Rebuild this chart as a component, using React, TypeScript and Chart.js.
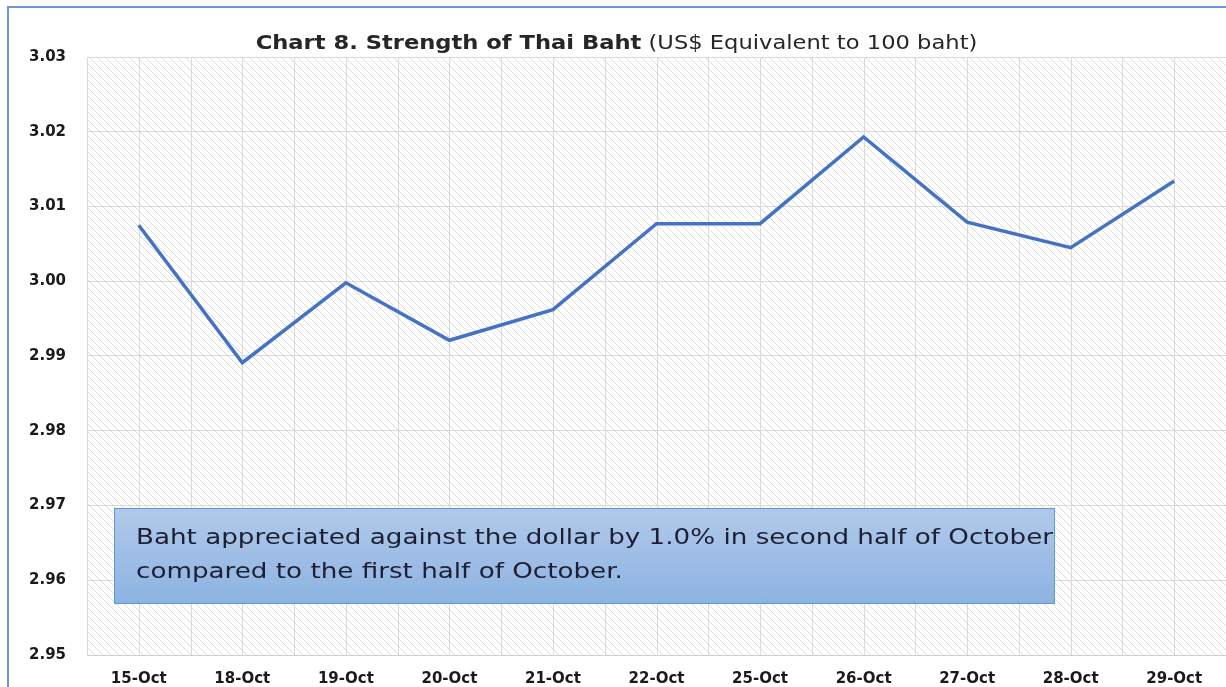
import React, { useEffect, useRef } from 'react';
import { Chart, registerables } from 'chart.js';

Chart.register(...registerables);

const categories = ['15-Oct', '18-Oct', '19-Oct', '20-Oct', '21-Oct', '22-Oct', '25-Oct', '26-Oct', '27-Oct', '28-Oct', '29-Oct'];
const bahtValues = [3.0075, 2.9891, 2.9998, 2.9921, 2.9962, 3.0077, 3.0077, 3.0193, 3.0079, 3.0045, 3.0134];
const yMin = 2.95;
const yMax = 3.03;
const yStep = 0.01;
const titleBold = 'Chart 8. Strength of Thai Baht';
const titleNormal = '(US$ Equivalent to 100 baht)';
const noteLines = [
  'Baht appreciated against the dollar by 1.0% in second half of October',
  'compared to the first half of October.',
];

const FONT = '"DejaVu Sans", "Open Sans", sans-serif';

function makePattern(ctx: CanvasRenderingContext2D) {
  const c = document.createElement('canvas');
  c.width = 8;
  c.height = 8;
  const p = c.getContext('2d')!;
  p.fillStyle = '#ffffff';
  p.fillRect(0, 0, 8, 8);
  p.strokeStyle = '#dcdcdc';
  p.lineWidth = 1;
  p.beginPath();
  p.moveTo(0, 0);
  p.lineTo(8, 8);
  p.moveTo(-4, 4);
  p.lineTo(4, 12);
  p.moveTo(4, -4);
  p.lineTo(12, 4);
  p.stroke();
  return ctx.createPattern(c, 'repeat');
}

const backgroundPlugin = {
  id: 'hatchBackground',
  beforeDraw(chart: any) {
    const { ctx, chartArea } = chart;
    const pattern = makePattern(ctx);
    ctx.save();
    ctx.fillStyle = pattern || '#efefef';
    ctx.fillRect(chartArea.left, chartArea.top, chartArea.right - chartArea.left, chartArea.bottom - chartArea.top);
    ctx.restore();
  },
  beforeDatasetsDraw(chart: any) {
    const { ctx, chartArea, scales } = chart;
    const x = scales.x;
    const step = x.getPixelForValue(1) - x.getPixelForValue(0);
    ctx.save();
    ctx.strokeStyle = '#dadada';
    ctx.lineWidth = 1;
    ctx.beginPath();
    for (let i = 0; i < categories.length; i++) {
      const c = x.getPixelForValue(i);
      const xs = [c - step / 2, c];
      if (i === categories.length - 1) xs.push(c + step / 2);
      xs.forEach((px) => {
        const rx = Math.round(px) + 0.5;
        ctx.moveTo(rx, chartArea.top);
        ctx.lineTo(rx, chartArea.bottom);
      });
    }
    ctx.stroke();
    ctx.strokeStyle = '#cfcfcf';
    ctx.beginPath();
    ctx.moveTo(chartArea.left, Math.round(chartArea.bottom) + 0.5);
    ctx.lineTo(chartArea.right, Math.round(chartArea.bottom) + 0.5);
    ctx.stroke();
    ctx.restore();
  },
};

export default function App() {
  const canvasRef = useRef<HTMLCanvasElement | null>(null);

  useEffect(() => {
    document.body.style.margin = '0';
    document.body.style.overflow = 'hidden';
    const canvas = canvasRef.current;
    if (!canvas) return;
    const chart = new Chart(canvas, {
      type: 'line',
      data: {
        labels: categories,
        datasets: [
          {
            data: bahtValues,
            borderColor: '#4472C4',
            borderWidth: 3.5,
            pointRadius: 0,
            tension: 0,
            fill: false,
          },
        ],
      },
      options: {
        animation: false,
        responsive: false,
        maintainAspectRatio: false,
        layout: { padding: { top: 57, right: 0, bottom: 0, left: 0 } },
        plugins: {
          legend: { display: false },
          title: { display: false },
          tooltip: { enabled: false },
        },
        scales: {
          x: {
            type: 'category',
            offset: true,
            grid: { display: false, drawTicks: false },
            border: { display: false },
            ticks: {
              autoSkip: false,
              maxRotation: 0,
              padding: 15,
              color: '#1a1a1a',
              font: { family: FONT, size: 15, weight: 'bold' },
            },
            afterFit(scale: any) {
              scale.height = 32;
            },
          },
          y: {
            min: yMin,
            max: yMax,
            grid: { color: '#d9d9d9', drawTicks: false, lineWidth: 1 },
            border: { display: false },
            ticks: {
              stepSize: yStep,
              padding: 21,
              color: '#1a1a1a',
              font: { family: FONT, size: 15, weight: 'bold' },
              callback: (v: any) => Number(v).toFixed(2),
            },
            afterFit(scale: any) {
              scale.width = 87;
            },
          },
        },
      },
      plugins: [backgroundPlugin],
    } as any);
    return () => chart.destroy();
  }, []);

  return (
    <div style={{ position: 'relative', width: 1226, height: 687, overflow: 'hidden', background: '#ffffff' }}>
      <canvas ref={canvasRef} width={1226} height={687} style={{ position: 'absolute', left: 0, top: 0 }} />
      <div
        style={{
          position: 'absolute',
          left: 7,
          top: 6,
          width: 1230,
          height: 700,
          borderLeft: '2px solid #7196D8',
          borderTop: '2px solid #7196D8',
          pointerEvents: 'none',
        }}
      />
      <div
        style={{
          position: 'absolute',
          left: 0,
          top: 31,
          width: 1233,
          textAlign: 'center',
          fontFamily: FONT,
          fontSize: 19,
          lineHeight: '22px',
          color: '#262626',
          whiteSpace: 'nowrap',
          transform: 'scaleX(1.19)',
          transformOrigin: '616.5px 0',
        }}
      >
        <span style={{ fontWeight: 'bold' }}>{titleBold}</span> <span>{titleNormal}</span>
      </div>
      <div
        style={{
          position: 'absolute',
          left: 114,
          top: 508,
          width: 941,
          height: 96,
          boxSizing: 'border-box',
          border: '1px solid #5B9BD5',
          background: 'linear-gradient(#B0C9EA, #8DB3E2)',
          paddingLeft: 21,
          paddingTop: 11,
          fontFamily: FONT,
          fontSize: 22,
          lineHeight: '34px',
          color: '#1f1f33',
          whiteSpace: 'nowrap',
        }}
      >
        <div style={{ transform: 'scaleX(1.19)', transformOrigin: '0 0' }}>
          {noteLines.map((l, i) => (
            <div key={i}>{l}</div>
          ))}
        </div>
      </div>
    </div>
  );
}
